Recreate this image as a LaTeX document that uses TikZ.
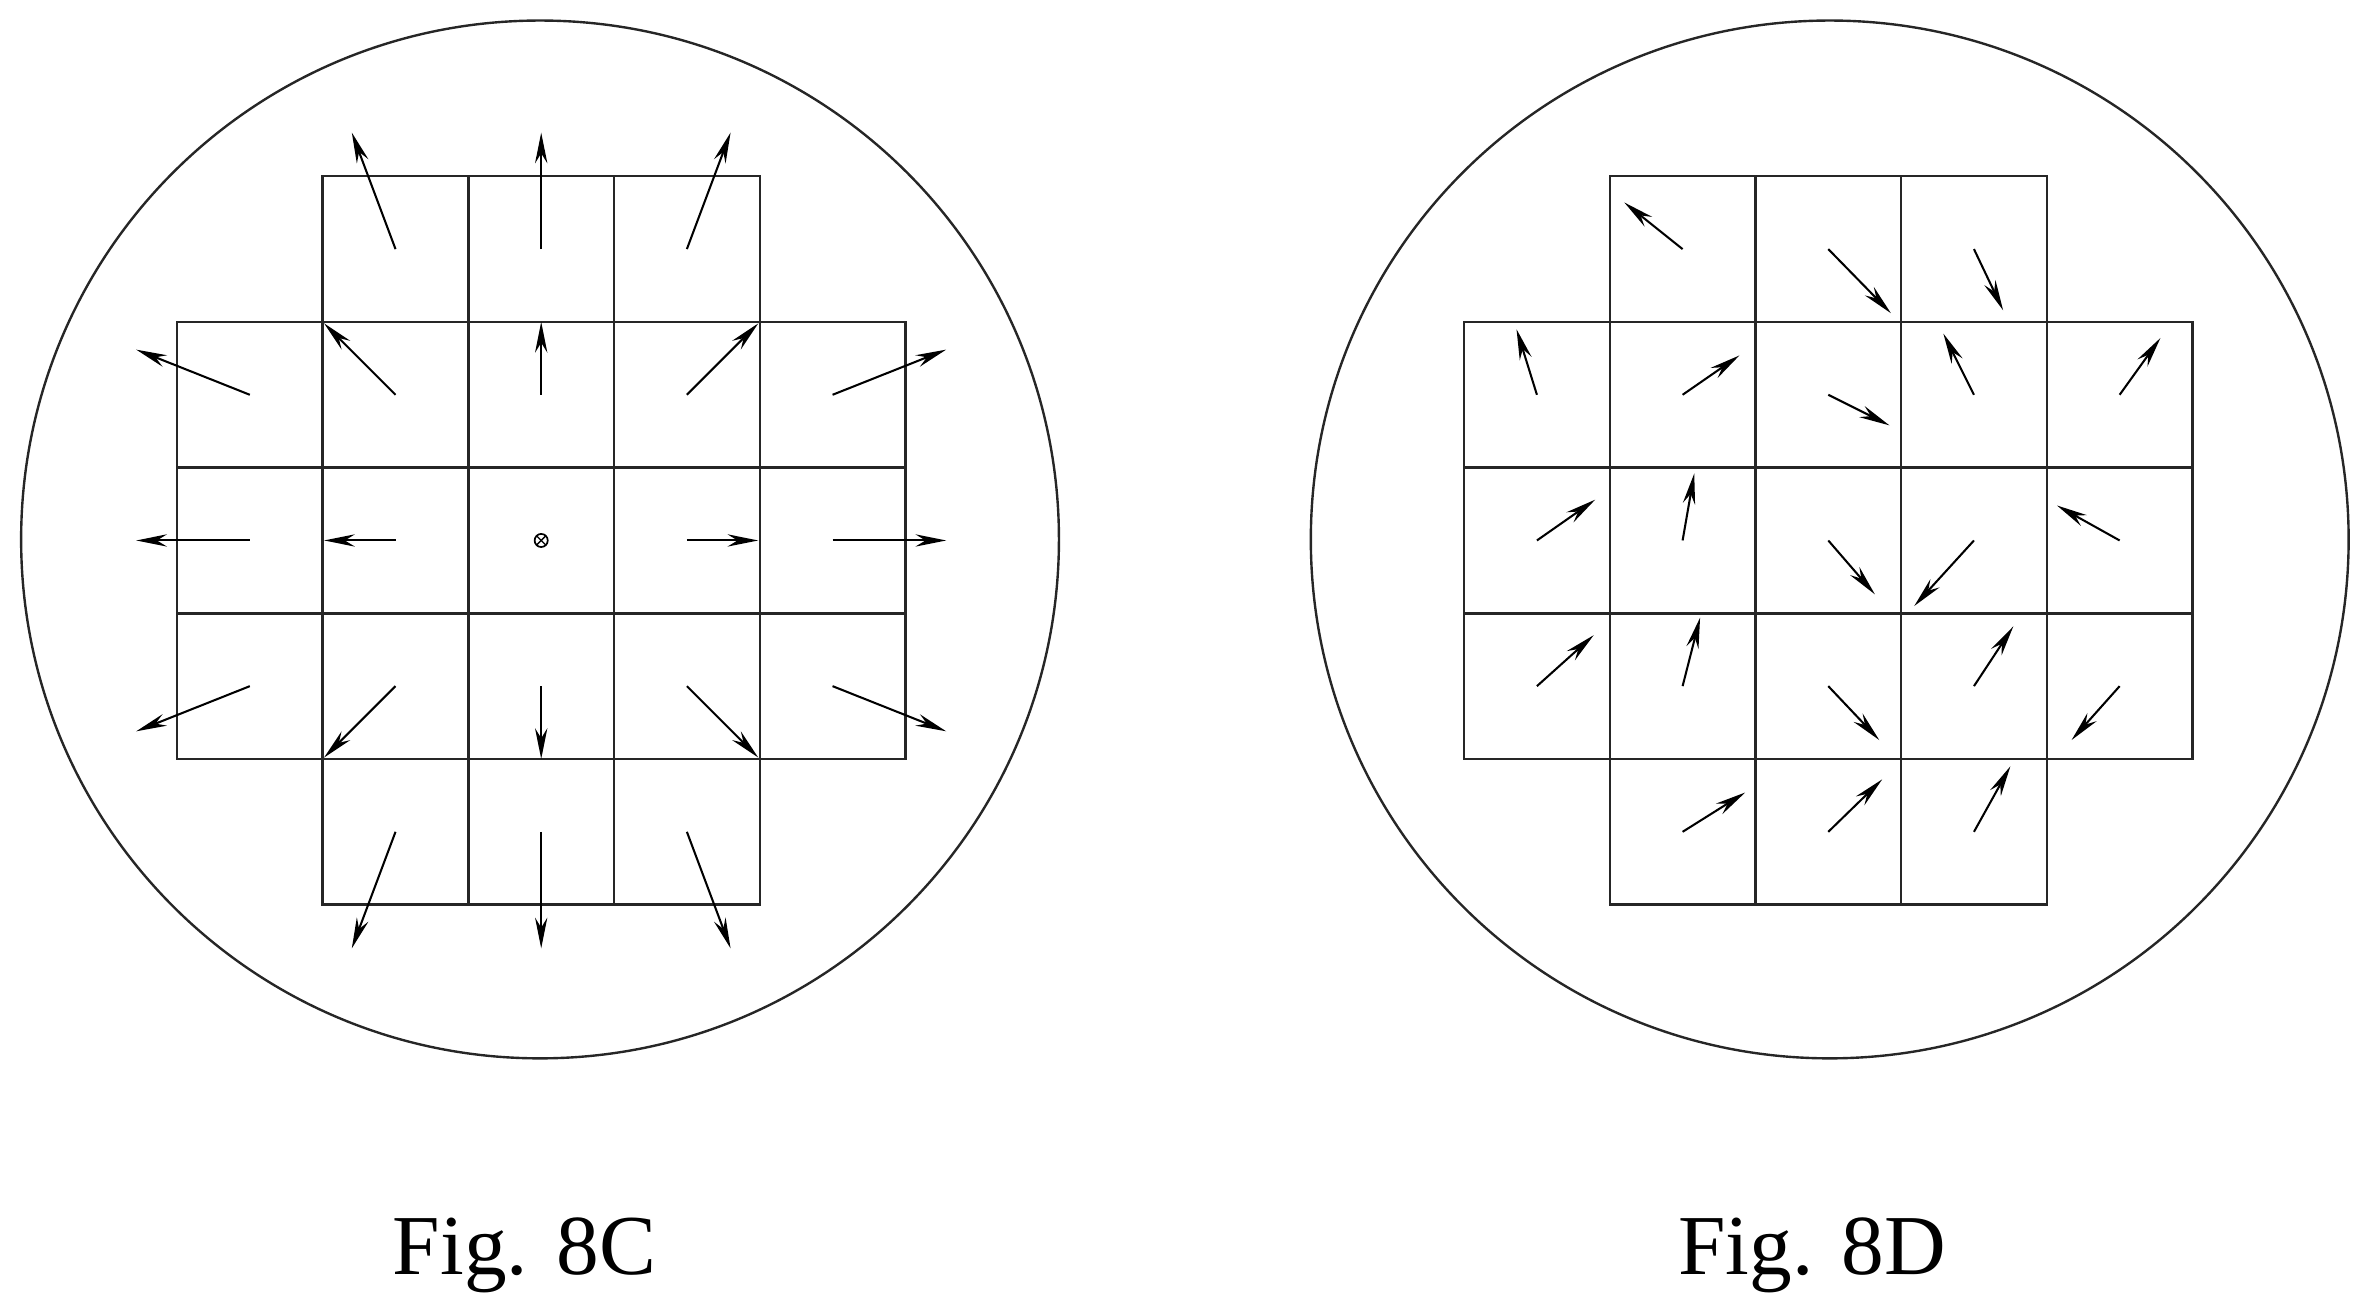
\documentclass[tikz,border=0pt]{standalone}
\usepackage{fontspec}
\setmainfont{Liberation Serif}
\usetikzlibrary{arrows.meta}
\tikzset{
  cell/.style={line width=0.7pt, black!85},
  ring/.style={line width=0.7pt, black!85},
  vec/.style={line width=0.6pt, -{Stealth[length=9pt,width=3.6pt]}},
  caption/.style={font=\fontsize{25}{30}\selectfont}
}
\begin{document}
\begin{tikzpicture}[x=1.5cm,y=1.5cm]
            \useasboundingbox (0,0) rectangle (16.2,9.02);
            % wafers
            \draw[ring] (3.707,5.317) circle (3.562);
            \draw[ring] (12.56,5.317) circle (3.562);
            % grids, shifted by left offset
            \foreach \gx in {1.215,10.05} {
              \foreach \r in {1,2,3} \foreach \c in {0,...,4}
                \draw[cell] (\gx+\c,7.81-\r-1) rectangle ++(1,1);
              \foreach \r in {0,4} \foreach \c in {1,2,3}
                \draw[cell] (\gx+\c,7.81-\r-1) rectangle ++(1,1);
            }
            % Fig. 8C: radial field
            \foreach \c/\r/\dx/\dy in {1/0/-0.3/0.8, 2/0/0/0.8, 3/0/0.3/0.8,
                0/1/-0.78/0.31, 1/1/-0.49/0.49, 2/1/0/0.5, 3/1/0.49/0.49, 4/1/0.78/0.31,
                0/2/-0.78/0, 1/2/-0.49/0, 3/2/0.49/0, 4/2/0.78/0,
                0/3/-0.78/-0.31, 1/3/-0.49/-0.49, 2/3/0/-0.5, 3/3/0.49/-0.49, 4/3/0.78/-0.31,
                1/4/-0.3/-0.8, 2/4/0/-0.8, 3/4/0.3/-0.8}
              \draw[vec] (1.215+\c+0.5,7.81-\r-0.5) -- ++(\dx,\dy);
            \draw[line width=0.5pt] (3.715,5.31) circle (0.045);
            \draw[line width=0.4pt] (3.715,5.31) ++(-0.032,-0.032) -- ++(0.064,0.064)
              (3.715,5.31) ++(-0.032,0.032) -- ++(0.064,-0.064);
            % Fig. 8D: scattered field
            \foreach \c/\r/\hu/\hv in {1/0/0.10/0.82, 2/0/0.93/0.06, 3/0/0.70/0.08,
                0/1/0.36/0.95, 1/1/0.89/0.77, 2/1/0.92/0.29, 3/1/0.29/0.92, 4/1/0.78/0.89,
                0/2/0.90/0.78, 1/2/0.58/0.96, 2/2/0.82/0.13, 3/2/0.09/0.05, 4/2/0.07/0.74,
                0/3/0.89/0.85, 1/3/0.62/0.97, 2/3/0.85/0.13, 3/3/0.77/0.91, 4/3/0.17/0.13,
                1/4/0.93/0.77, 2/4/0.87/0.86, 3/4/0.75/0.95}
              \draw[vec] (10.05+\c+0.5,7.81-\r-0.5) -- (10.05+\c+\hu,7.81-\r-1+\hv);
            % captions
            \node[caption] (capC) at (3.60,0.40) {Fig. 8C};
            \node[caption] (capD) at (12.44,0.40) {Fig. 8D};
        \end{tikzpicture}
\end{document}
